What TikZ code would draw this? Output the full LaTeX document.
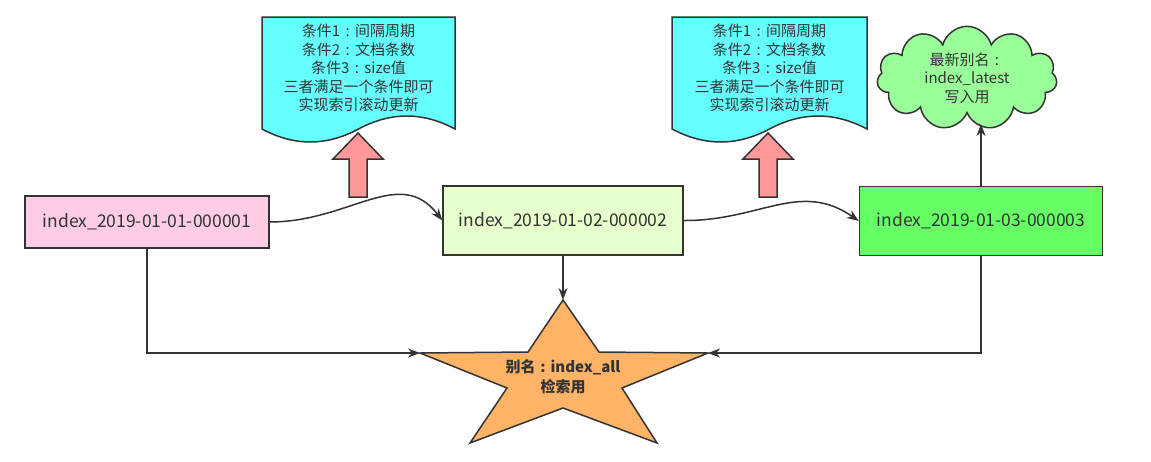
\documentclass[tikz,border=0pt]{standalone}
\usepackage{fontspec}
\setmainfont{Noto Sans CJK SC}
\usetikzlibrary{arrows.meta,shapes.symbols}

\definecolor{ln}{HTML}{333333}
\definecolor{pinkbox}{HTML}{FFCCE6}
\definecolor{lgreen}{HTML}{E6FFCC}
\definecolor{green}{HTML}{66FF66}
\definecolor{cyandoc}{HTML}{66FFFF}
\definecolor{cloudg}{HTML}{99FF99}
\definecolor{staro}{HTML}{FFB366}
\definecolor{upred}{HTML}{FF9999}

% centred full-width colon
\newcommand\fcolon{\makebox[1em]{:}}

\begin{document}
\begin{tikzpicture}[x=1pt, y=-1pt,
    every node/.style={font=\fontsize{15}{18.5}\selectfont, text=ln},
    idx/.style={rectangle, draw=ln, line width=1.5pt, minimum height=69pt,
                inner sep=0pt, font=\fontsize{17.5}{20}\selectfont},
    doc/.style={draw=ln, fill=cyandoc, line width=1.5pt},
    upar/.style={draw=ln, fill=upred, line width=1.5pt, line join=miter},
    e/.style={draw=ln, line width=1.5pt, -{Stealth[length=12pt, width=9pt]}},
  ]
  \useasboundingbox (0,0) rectangle (1151,461);

  % index boxes
  \node[idx, fill=pinkbox, minimum width=244pt, minimum height=52pt] (idx1) at (147,222) {index\_2019-01-01-000001};
  \node[idx, fill=lgreen, minimum width=240pt] (idx2) at (563,220.5) {index\_2019-01-02-000002};
  \node[idx, fill=green, minimum width=243pt] (idx3) at (981,221) {index\_2019-01-03-000003};

  % rollover conditions
  \foreach \l/\r in {262/455, 672/867}
    \draw[doc] (\l,17) -- (\r,17) -- (\r,129)
      .. controls ({\r-(\r-\l)/6},111.7) and ({\l+2*(\r-\l)/3},111.7) .. ({(\l+\r)/2},129)
      .. controls ({\l+(\r-\l)/3},146.3) and ({\l+(\r-\l)/6},146.3) .. (\l,129) -- cycle;
  \node[align=center] (cond1) at (358.5,68) {条件1\fcolon 间隔周期\\条件2\fcolon 文档条数\\条件3\fcolon size值\\三者满足一个条件即可\\实现索引滚动更新};
  \node[align=center] (cond2) at (769.5,68) {条件1\fcolon 间隔周期\\条件2\fcolon 文档条数\\条件3\fcolon size值\\三者满足一个条件即可\\实现索引滚动更新};

  \foreach \x in {358,768}
    \draw[upar] (\x,133) -- (\x+25,159) -- (\x+9,159) -- (\x+9,197)
      -- (\x-9,197) -- (\x-9,159) -- (\x-25,159) -- cycle;

  % write alias
  \node[cloud, draw=ln, fill=cloudg, line width=1.5pt, cloud puffs=11, aspect=2.2,
        minimum width=180pt, minimum height=80pt, inner sep=0pt, align=center]
        (latest) at (967,78) {最新别名\fcolon\\index\_latest\\写入用};
  \coordinate (latest-in) at (981,124);

  % read alias
  \coordinate (st-top) at (563,300);
  \coordinate (st-left) at (420,353);
  \coordinate (st-right) at (708,353);
  \draw[draw=ln, fill=staro, line width=1.5pt] (st-top) -- (599,352) -- (st-right) -- (622,388)
    -- (657,443) -- (563,408) -- (470,443) -- (507,388) -- (st-left) -- (528,352) -- cycle;
  \node[align=center, font=\bfseries\fontsize{15}{20}\selectfont] (all) at (563,377) {别名\fcolon index\_all\\检索用};

  % connectors
  \draw[e] (idx1.east) .. controls (350,222) and (400,165) .. (idx2.west);
  \draw[e] (idx2.east) .. controls (760,221) and (800,180) .. (idx3.west);
  \draw[e] (idx3.north) -- (latest-in);
  \draw[e] (idx2.south) -- (st-top);
  \draw[e] (idx1.south) |- (st-left);
  \draw[e] (idx3.south) |- (st-right);
\end{tikzpicture}
\end{document}
